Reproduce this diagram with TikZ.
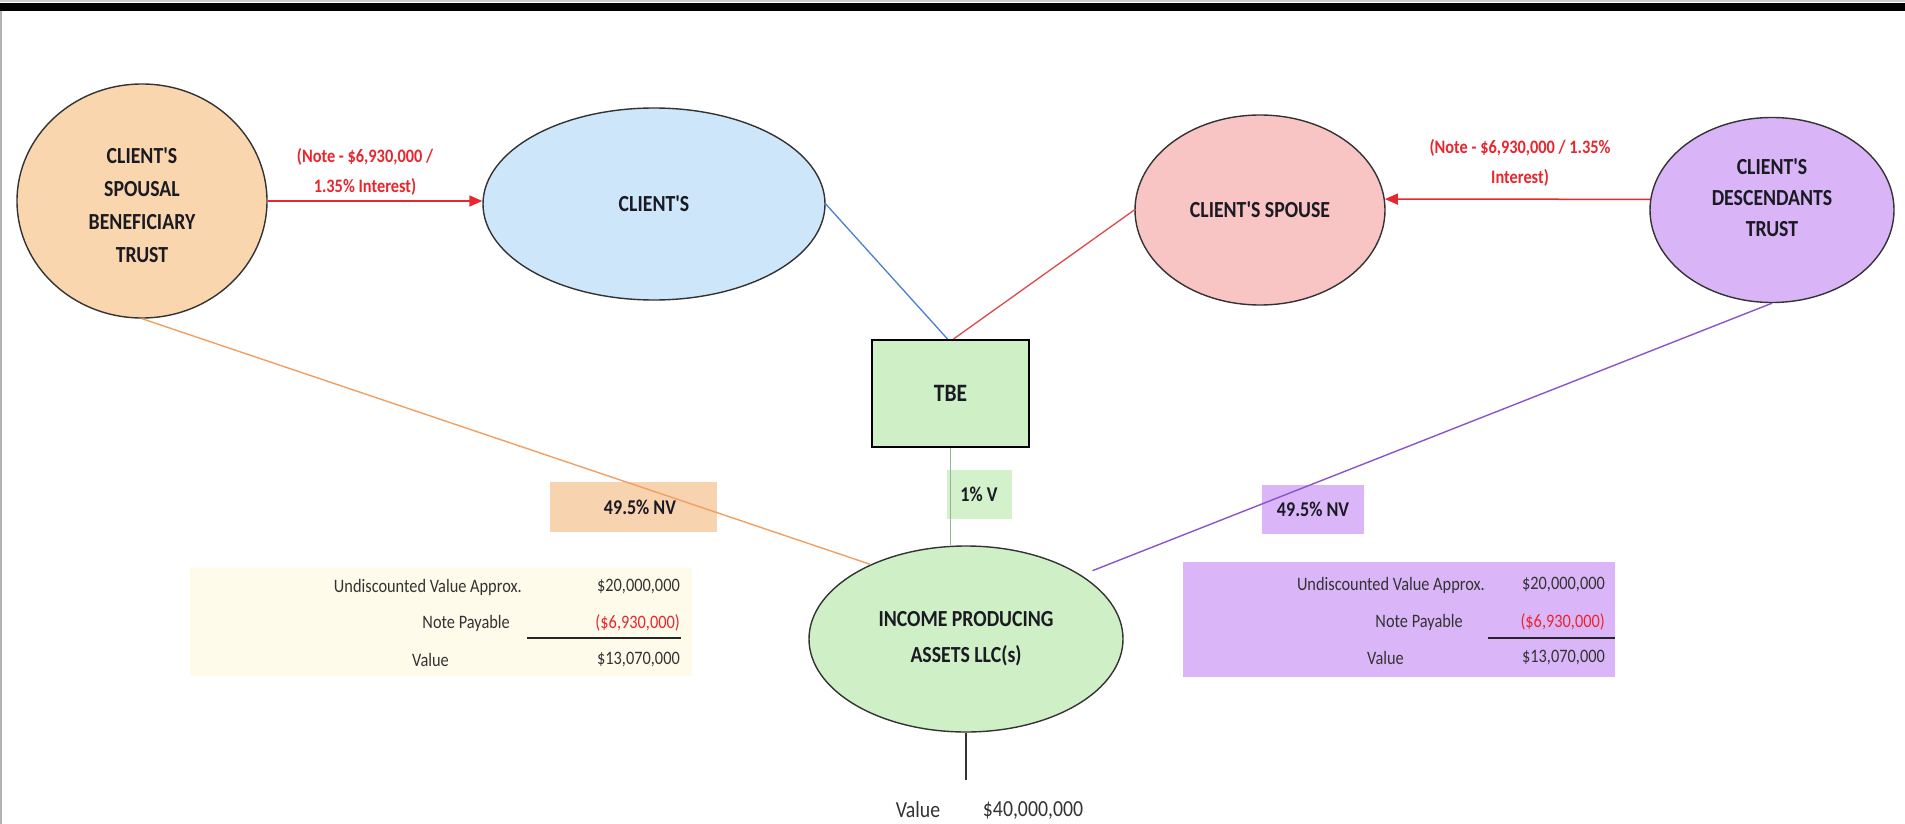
\documentclass[tikz,border=0pt]{standalone}
\usepackage{fontspec}
\setmainfont{Carlito}[FakeStretch=0.86, Ligatures=TeXOff]
\usetikzlibrary{shapes.geometric,arrows.meta}
\definecolor{cpeach}{HTML}{FAD6AE}
\definecolor{cblue}{HTML}{CDE6FA}
\definecolor{cpink}{HTML}{F8C4C4}
\definecolor{clav}{HTML}{D9B5F7}
\definecolor{cgreen}{HTML}{CFEFC6}
\definecolor{lgreen}{HTML}{D3F1CA}
\definecolor{olab}{HTML}{F8D3B0}
\definecolor{plab}{HTML}{DAB6F8}
\definecolor{tcream}{HTML}{FEFBEA}
\definecolor{tpurple}{HTML}{DAB6F8}
\definecolor{ared}{HTML}{E8262E}
\definecolor{lorange}{HTML}{F0A060}
\definecolor{lpurple}{HTML}{8A55CC}
\definecolor{lblue}{HTML}{4A7FD0}
\definecolor{lred}{HTML}{E04848}
\definecolor{ink}{HTML}{1A1A22}
\tikzset{
  ell/.style={ellipse, draw=black!80, line width=1.4pt, inner sep=0pt, text=ink,
    font=\bfseries\fontsize{23}{31}\selectfont, align=center},
  labbox/.style={inner sep=0pt, text=ink, font=\bfseries\fontsize{21}{25}\selectfont},
  note/.style={text=ared, font=\bfseries\fontsize{19}{30}\selectfont, align=center},
  redarrow/.style={draw=ared, line width=1.5pt, -{Triangle[length=13pt,width=11pt]}},
  tbltext/.style={inner sep=0pt, text=black!80, font=\fontsize{19}{22}\selectfont},
  tblred/.style={inner sep=0pt, text=ared, font=\fontsize{19}{22}\selectfont},
  valtext/.style={inner sep=0pt, text=black!80, font=\fontsize{23}{26}\selectfont}
}
\begin{document}
\begin{tikzpicture}[x=1pt,y=-1pt]
\useasboundingbox (0,0) rectangle (1905,824);
\fill[white] (0,0) rectangle (1905,824);
% top band and left border
\fill[gray!40] (0,0) rectangle (1905,2.5);
\fill[black] (0,3) rectangle (1905,11);
\fill[gray!60] (0,11) rectangle (1.5,824);

% tables
\node[fill=tcream, minimum width=502, minimum height=108, inner sep=0pt] (tblL) at (441,622) {};
\node[fill=tpurple, minimum width=432, minimum height=115, inner sep=0pt] (tblR) at (1399,619.5) {};

\node[tbltext, anchor=east] (lu) at (522,587) {Undiscounted Value Approx.};
\node[tbltext, anchor=east] (lua) at (680,587) {\$20,000,000};
\node[tbltext, anchor=east] (ln) at (510,623) {Note Payable};
\node[tblred, anchor=east] (lna) at (680,623) {(\$6,930,000)};
\node[tbltext, anchor=west] (lv) at (412,660) {Value};
\node[tbltext, anchor=east] (lva) at (680,660) {\$13,070,000};
\coordinate (lla) at (527,638);
\coordinate (llb) at (681,638);
\draw[line width=2pt, black!85] (lla) -- (llb);

\node[tbltext, anchor=east] (ru) at (1485,585) {Undiscounted Value Approx.};
\node[tbltext, anchor=east] (rua) at (1605,585) {\$20,000,000};
\node[tbltext, anchor=east] (rn) at (1463,622) {Note Payable};
\node[tblred, anchor=east] (rna) at (1605,622) {(\$6,930,000)};
\node[tbltext, anchor=west] (rv) at (1367,658) {Value};
\node[tbltext, anchor=east] (rva) at (1605,658) {\$13,070,000};
\coordinate (rla) at (1488,638);
\coordinate (rlb) at (1615,638);
\draw[line width=2pt, black!85] (rla) -- (rlb);

% small label boxes
\node[labbox, fill=olab, minimum width=167, minimum height=50] (ol) at (633,507) {\hspace*{14pt}49.5\% NV};
\node[labbox, fill=plab, minimum width=102, minimum height=49] (pl) at (1313,509.5) {49.5\% NV};
\node[labbox, fill=lgreen, minimum width=65, minimum height=49] (pv) at (979,494) {1\% V};

% main shapes
\node[ell, fill=cpeach, minimum width=250, minimum height=234,
  label={[font=\bfseries\fontsize{23}{33}\selectfont, text=ink, align=center, yshift=-4pt]center:CLIENT'S\\SPOUSAL\\BENEFICIARY\\TRUST}] (sbt) at (142,201) {};
\node[ell, fill=cblue, minimum width=342, minimum height=192] (client) at (654,204) {CLIENT'S};
\node[ell, fill=cpink, minimum width=250, minimum height=190] (spouse) at (1260,210) {CLIENT'S SPOUSE};
\node[ell, fill=clav, minimum width=244, minimum height=185,
  label={[font=\bfseries\fontsize{23}{31}\selectfont, text=ink, align=center, yshift=12pt]center:CLIENT'S\\DESCENDANTS\\TRUST}] (desc) at (1772,210) {};
\node[draw=black, line width=2pt, fill=cgreen, minimum width=157, minimum height=107, inner sep=0pt, text=ink, font=\bfseries\fontsize{25}{28}\selectfont] (tbe) at (950.5,393.5) {TBE};
\node[ell, fill=cgreen, minimum width=314, minimum height=186, font=\bfseries\fontsize{23}{36}\selectfont] (ipa) at (966,639) {INCOME PRODUCING\\ASSETS LLC(s)};

% notes
\node[note] (n1) at (365,172) {(Note - \$6,930,000 /\\1.35\% Interest)};
\node[note] (n2) at (1520,163) {(Note - \$6,930,000 / 1.35\%\\Interest)};

% connectors
\draw[redarrow] (sbt.east) -- (sbt.east -| client.west);
\draw[redarrow] (desc.175) -- (spouse.5);
\draw[lblue, line width=1.3pt] (client.east) -- ([xshift=-3pt]tbe.north);
\draw[lred, line width=1.3pt] (spouse.west) -- ([xshift=3pt]tbe.north);
\draw[lorange, line width=1.4pt] (sbt.south) -- (ipa.142);
\draw[lpurple, line width=1.4pt, shorten >=12pt] (desc.south) -- (ipa.29);
\draw[gray!50!green!60!black!50, line width=1.2pt] (tbe.south) -- (tbe.south |- ipa.north);

% bottom value
\coordinate (vend) at ([yshift=-47pt]ipa.south);
\draw[black!80, line width=1.3pt] (ipa.south) -- (vend);
\node[valtext] (vl) at (918,810) {Value};
\node[valtext] (vv) at (1033,810) {\$40,000,000};
\end{tikzpicture}
\end{document}
